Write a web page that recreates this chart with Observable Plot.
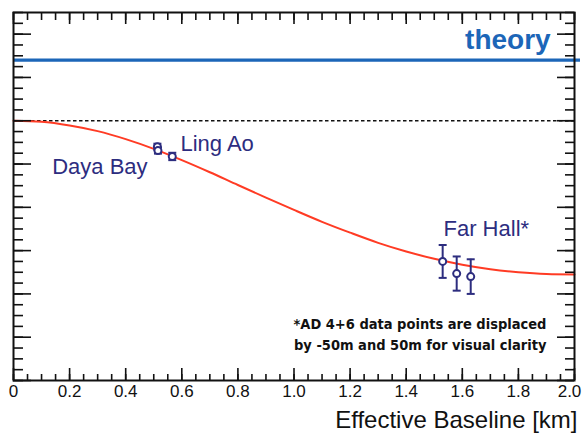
<!DOCTYPE html>
<html>
<head>
<meta charset="utf-8">
<script src="https://cdn.jsdelivr.net/npm/d3@7"></script>
<script src="https://cdn.jsdelivr.net/npm/@observablehq/plot@0.6"></script>
<style>
  html, body { margin: 0; padding: 0; background: #fff; }
  #chart { width: 583px; height: 433px; overflow: hidden; }
</style>
</head>
<body>
<div id="chart"></div>
<script>
// ---- data ----
const curveBaseline = [0, 0.1, 0.2, 0.3, 0.4, 0.5, 0.6, 0.7, 0.8, 0.9, 1.0, 1.1, 1.2, 1.3, 1.4, 1.5, 1.6, 1.7, 1.8, 1.9, 2.0];
const curveRatio    = [1.0000, 0.9995, 0.9978, 0.9952, 0.9915, 0.9870, 0.9818, 0.9762, 0.9703, 0.9645, 0.9588, 0.9533, 0.9483, 0.9436, 0.9396, 0.9362, 0.9335, 0.9314, 0.9300, 0.9292, 0.9290];

const pointHall     = ["Daya Bay", "Daya Bay", "Ling Ao", "Far Hall", "Far Hall", "Far Hall"];
const pointBaseline = [0.513, 0.515, 0.566, 1.53, 1.58, 1.63];
const pointRatio    = [0.988, 0.9862, 0.9835, 0.935, 0.9294, 0.928];
const pointError    = [0.0014, 0.0014, 0.0017, 0.0076, 0.0079, 0.008];

const theoryValue = 1.028;
const referenceValue = 1.0;

const hallLabels  = ["Daya Bay", "Ling Ao", "Far Hall*"];
const hallLabelX  = [0.138, 0.595, 1.533];
const hallLabelY  = [0.9785, 0.9895, 0.9500];

const xTickLabels = [0, 0.2, 0.4, 0.6, 0.8, 1.0, 1.2, 1.4, 1.6, 1.8, 2.0];
const xMinorTicks = d3.range(0, 2.0001, 0.05);
const yMajorTicks = [0.88, 0.90, 0.92, 0.94, 0.96, 0.98, 1.00, 1.02, 1.04];
const yMinorTicks = d3.range(0.88, 1.0501, 0.005);

const footnote = "*AD 4+6 data points are displaced\nby -50m and 50m for visual clarity";
const xLabel = "Effective Baseline [km]";
const theoryLabel = "theory";

// ---- build tables ----
const curve = curveBaseline.map((x, i) => ({x, y: curveRatio[i]}));
const points = pointBaseline.map((x, i) => ({hall: pointHall[i], x, y: pointRatio[i], e: pointError[i]}));
const labels = hallLabels.map((t, i) => ({t, x: hallLabelX[i], y: hallLabelY[i]}));
const lastTick = xTickLabels[xTickLabels.length - 1];

const W = 583, H = 433;
const mT = 12, mB = 53, mL = 13, mR = 9;
const innerH = H - mT - mB, innerW = W - mL - mR;

const navy = "#2d2d7f";
const capSymbol = {
  draw(ctx, size) {
    const w = Math.sqrt(size / Math.PI);
    ctx.moveTo(-w, 0); ctx.lineTo(w, 0);
  }
};
const fmt = d => d === 0 ? "0" : d.toFixed(1);

const chart = Plot.plot({
  width: W, height: H,
  marginTop: mT, marginBottom: mB, marginLeft: mL, marginRight: mR,
  style: {fontFamily: "Liberation Sans, Arial, sans-serif", fontSize: "17px", color: "#111", background: "#fff"},
  x: {domain: [0, 2.0], axis: null},
  y: {domain: [0.88, 1.05], axis: null},
  marks: [
    // theory & reference lines
    Plot.ruleY([theoryValue], {stroke: "#1c66b8", strokeWidth: 3.2, insetRight: -6}),
    Plot.ruleY([referenceValue], {stroke: "#111", strokeWidth: 1.3, strokeDasharray: "3.5,2.5"}),
    // oscillation curve
    Plot.line(curve, {x: "x", y: "y", stroke: "#ff3b24", strokeWidth: 2, curve: "monotone-x"}),
    // error bars
    Plot.ruleX(points, {x: "x", y1: d => d.y - d.e, y2: d => d.y + d.e, stroke: navy, strokeWidth: 2}),
    Plot.dot(points, {x: "x", y: d => d.y - d.e, symbol: capSymbol, r: 4, stroke: navy, strokeWidth: 2}),
    Plot.dot(points, {x: "x", y: d => d.y + d.e, symbol: capSymbol, r: 4, stroke: navy, strokeWidth: 2}),
    Plot.dot(points, {x: "x", y: "y", r: 3.5, stroke: navy, strokeWidth: 2, fill: "white"}),
    // hall labels
    Plot.text(labels, {x: "x", y: "y", text: "t", textAnchor: "start", fill: navy, fontSize: 22, fontFamily: "Liberation Sans, Arial, sans-serif"}),
    Plot.text([theoryLabel], {x: 1.915, y: 1.0375, text: d => d, textAnchor: "end", fill: "#1c66b8", fontSize: 28, fontWeight: "bold", fontFamily: "Liberation Sans, Arial, sans-serif"}),
    Plot.text([footnote], {x: 1.9, y: 0.9020, text: d => d, textAnchor: "end", lineHeight: 1.4, fill: "#111", fontSize: 14.5, fontWeight: "bold", fontFamily: "Liberation Sans Narrow, DejaVu Sans Condensed, sans-serif"}),
    // ROOT-style inward ticks
    Plot.tickX(xTickLabels, {x: d => d, insetTop: innerH - 12, stroke: "#111", strokeWidth: 1.6}),
    Plot.tickX(xMinorTicks, {x: d => d, insetTop: innerH - 6, stroke: "#111", strokeWidth: 1.6}),
    Plot.tickX(xTickLabels, {x: d => d, insetBottom: innerH - 12, stroke: "#111", strokeWidth: 1.6}),
    Plot.tickX(xMinorTicks, {x: d => d, insetBottom: innerH - 8, stroke: "#111", strokeWidth: 1.6}),
    Plot.tickY(yMajorTicks, {y: d => d, insetRight: innerW - 18, stroke: "#111", strokeWidth: 1.6}),
    Plot.tickY(yMinorTicks, {y: d => d, insetRight: innerW - 10, stroke: "#111", strokeWidth: 1.6}),
    Plot.tickY(yMajorTicks, {y: d => d, insetLeft: innerW - 17, stroke: "#111", strokeWidth: 1.6}),
    Plot.tickY(yMinorTicks, {y: d => d, insetLeft: innerW - 9, stroke: "#111", strokeWidth: 1.6}),
    Plot.frame({stroke: "#111", strokeWidth: 2}),
    // x axis labels
    Plot.axisX({ticks: xTickLabels.filter(d => d !== lastTick), tickSize: 0, tickPadding: 4, anchor: "bottom",
      tickFormat: fmt, fontSize: 17, label: null}),
    Plot.axisX({ticks: [lastTick], tickSize: 0, tickPadding: 4, anchor: "bottom", dx: -5,
      tickFormat: fmt, fontSize: 17, label: null}),
    Plot.text([xLabel], {frameAnchor: "bottom-right", dy: 47, dx: 3, text: d => d, textAnchor: "end", fontSize: 24, fill: "#111", fontFamily: "Liberation Sans, Arial, sans-serif"})
  ]
});
document.getElementById("chart").appendChild(chart);
</script>
</body>
</html>
